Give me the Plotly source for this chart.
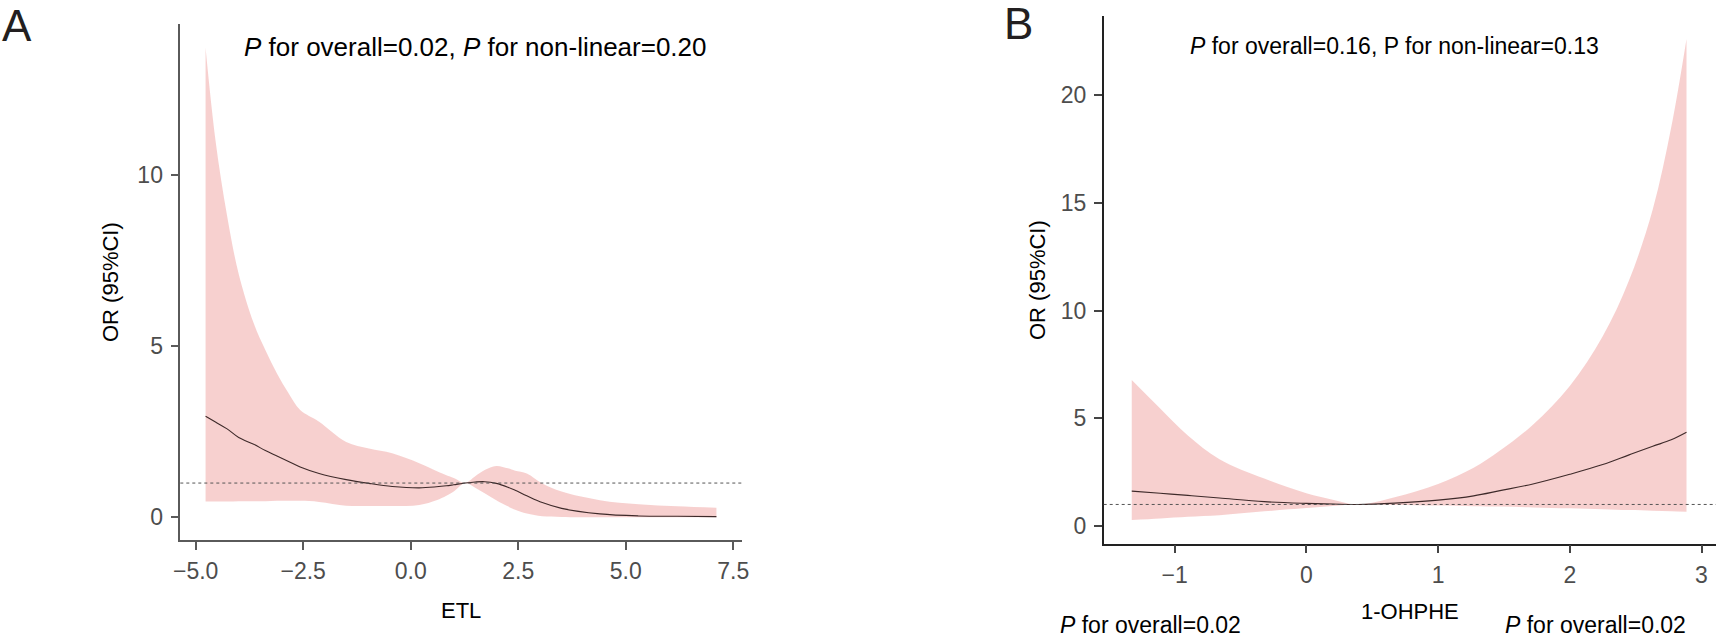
import plotly.graph_objects as go

# ---------------- data ----------------
# Panel A : ETL
etl_x = [-4.77, -4.54, -4.27, -4.0, -3.65, -3.38, -3.11, -2.84, -2.57, -2.13, -1.5, -0.97, -0.43,
         0.2, 0.6, 0.83, 1.0, 1.27, 1.5, 1.72, 1.99, 2.26, 2.43, 2.7, 3.06, 3.51, 4.4, 5.3, 6.2, 7.11]
etl_or = [2.95, 2.78, 2.58, 2.33, 2.13, 1.95, 1.79, 1.63, 1.47, 1.28, 1.1, 0.99, 0.9,
          0.86, 0.89, 0.92, 0.95, 1.0, 1.03, 1.04, 0.99, 0.88, 0.79, 0.63, 0.43, 0.26, 0.1, 0.04, 0.03, 0.02]
etl_upper = [13.7, 11.0, 8.8, 7.1, 5.66, 4.88, 4.2, 3.62, 3.13, 2.79, 2.2, 2.01, 1.87,
             1.58, 1.35, 1.23, 1.15, 1.01, 1.2, 1.38, 1.5, 1.43, 1.36, 1.28, 0.99, 0.75, 0.5, 0.38, 0.32, 0.28]
etl_lower = [0.46, 0.46, 0.46, 0.47, 0.47, 0.47, 0.48, 0.48, 0.48, 0.45, 0.34, 0.33, 0.33,
             0.36, 0.5, 0.63, 0.75, 1.0, 0.86, 0.7, 0.5, 0.32, 0.22, 0.11, 0.03, 0.01, 0.0, 0.0, 0.0, 0.0]

# Panel B : 1-OHPHE
ohphe_x = [-1.326, -1.11, -0.9, -0.66, -0.32, 0.0, 0.2, 0.39, 0.67, 1.0, 1.27, 1.47, 1.72,
           2.0, 2.25, 2.45, 2.63, 2.77, 2.886]
ohphe_or = [1.62, 1.52, 1.42, 1.3, 1.13, 1.05, 1.02, 1.0, 1.06, 1.2, 1.4, 1.64, 1.95,
            2.4, 2.85, 3.3, 3.7, 4.0, 4.35]
ohphe_upper = [6.77, 5.45, 4.2, 3.1, 2.2, 1.52, 1.22, 1.0, 1.33, 1.95, 2.7, 3.5, 4.7,
               6.5, 8.8, 11.4, 14.7, 18.5, 22.6]
ohphe_lower = [0.28, 0.35, 0.43, 0.5, 0.68, 0.83, 0.93, 1.0, 0.98, 0.95, 0.92, 0.9, 0.86,
               0.82, 0.78, 0.74, 0.71, 0.68, 0.66]

ref_value = 1

etl_xticks = [-5.0, -2.5, 0.0, 2.5, 5.0, 7.5]
etl_yticks = [0, 5, 10]
ohphe_xticks = [-1, 0, 1, 2, 3]
ohphe_yticks = [0, 5, 10, 15, 20]

text_a = "<i>P</i> for overall=0.02, <i>P</i> for non-linear=0.20"
text_b = "<i>P</i> for overall=0.16, P for non-linear=0.13"
text_b_bottom = "<i>P</i> for overall=0.02"

# ---------------- style ----------------
W, H = 1716, 640
FONT = "Arial, Liberation Sans, Helvetica, sans-serif"
FILL = "rgba(247,205,204,0.95)"
LINE = "#3e2a2a"


def px(xp):
    return xp / W


def py(yp):
    return 1 - yp / H


fig = go.Figure()


def add_panel(xs, lo, up, orv, xa, ya):
    fig.add_trace(go.Scatter(x=xs, y=lo, mode="lines", line=dict(width=0, color=FILL),
                             line_shape="spline",
                             xaxis=xa, yaxis=ya, showlegend=False, hoverinfo="skip"))
    fig.add_trace(go.Scatter(x=xs, y=up, mode="lines", line=dict(width=0, color=FILL),
                             line_shape="spline",
                             fill="tonexty", fillcolor=FILL,
                             xaxis=xa, yaxis=ya, showlegend=False, hoverinfo="skip"))
    fig.add_trace(go.Scatter(x=xs, y=orv, mode="lines", line=dict(width=1.1, color=LINE),
                             line_shape="spline",
                             xaxis=xa, yaxis=ya, showlegend=False))


add_panel(etl_x, etl_lower, etl_upper, etl_or, "x", "y")
add_panel(ohphe_x, ohphe_lower, ohphe_upper, ohphe_or, "x2", "y2")

# reference lines
fig.add_shape(type="line", xref="x domain", yref="y", x0=0, x1=1, y0=ref_value, y1=ref_value,
              line=dict(color="#555555", width=1, dash="3px,3px"))
fig.add_shape(type="line", xref="x2 domain", yref="y2", x0=0, x1=1, y0=ref_value, y1=ref_value,
              line=dict(color="#555555", width=1, dash="3px,3px"))

tickfont = dict(family=FONT, size=23, color="#4d4d4d")

fig.update_layout(
    width=W, height=H, autosize=False,
    margin=dict(l=0, r=0, t=0, b=0),
    paper_bgcolor="white", plot_bgcolor="white",
    font=dict(family=FONT, color="black"),
    xaxis=dict(domain=[px(180.3), px(742)], range=[-5.358, 7.705],
               tickvals=etl_xticks, tickformat=".1f",
               showline=True, linecolor="#5a5a5a", linewidth=1.5,
               ticks="outside", ticklen=8, tickcolor="#5a5a5a", tickwidth=1.5,
               tickfont=tickfont, ticklabelstandoff=2,
               showgrid=False, zeroline=False, anchor="y", automargin=False),
    yaxis=dict(domain=[py(540), py(24)], range=[-0.662, 14.396],
               tickvals=etl_yticks,
               showline=True, linecolor="#5a5a5a", linewidth=1.5,
               ticks="outside", ticklen=8, tickcolor="#5a5a5a", tickwidth=1.5,
               tickfont=tickfont, ticklabelstandoff=3,
               showgrid=False, zeroline=False, anchor="x", automargin=False),
    xaxis2=dict(domain=[px(1103.7), 1.0], range=[-1.539, 3.110],
                tickvals=ohphe_xticks,
                showline=True, linecolor="#222222", linewidth=1.5,
                ticks="outside", ticklen=8, tickcolor="#444444", tickwidth=1.5,
                tickfont=tickfont, ticklabelstandoff=2,
                showgrid=False, zeroline=False, anchor="y2", automargin=False),
    yaxis2=dict(domain=[py(543.7), py(16)], range=[-0.821, 23.666],
                tickvals=ohphe_yticks,
                showline=True, linecolor="#222222", linewidth=1.5,
                ticks="outside", ticklen=8, tickcolor="#444444", tickwidth=1.5,
                tickfont=tickfont, ticklabelstandoff=3,
                showgrid=False, zeroline=False, anchor="x2", automargin=False),
)

ann = []


def add_text(text, x, y, size, xanchor="left", angle=0, color="black"):
    ann.append(dict(text=text, x=px(x), y=py(y), xref="paper", yref="paper",
                    xanchor=xanchor, yanchor="middle", showarrow=False, textangle=angle,
                    font=dict(family=FONT, size=size, color=color)))


add_text("A", 0, 25, 44, color="#231f20")
add_text("B", 1002, 24, 44, color="#231f20")
add_text(text_a, 242, 47, 26)
add_text(text_b, 1188, 46, 23)
add_text("ETL", 461, 610, 22, xanchor="center")
add_text("1-OHPHE", 1410, 611, 22, xanchor="center")
add_text("OR (95%CI)", 110, 282, 22, xanchor="center", angle=-90)
add_text("OR (95%CI)", 1037, 280, 22, xanchor="center", angle=-90)
add_text(text_b_bottom, 1058, 625, 23)
add_text(text_b_bottom, 1503, 625, 23)

fig.update_layout(annotations=ann)

fig.write_html("out.html",
               config={"displayModeBar": False},
               post_script="document.body.style.margin='0';document.body.style.overflow='hidden';")
